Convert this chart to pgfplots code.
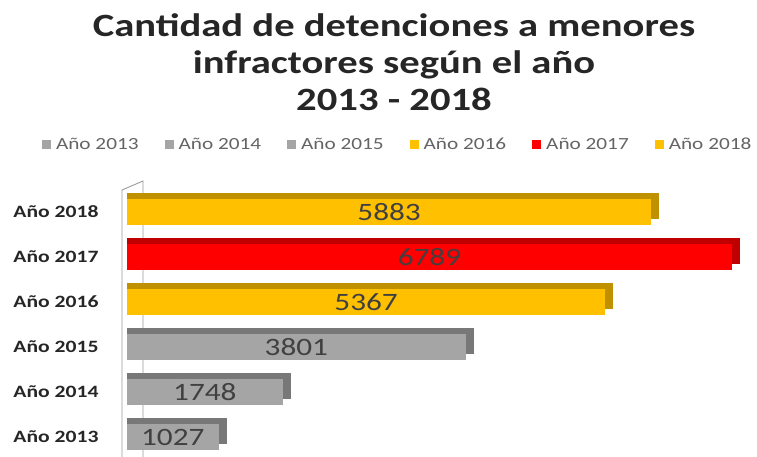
\documentclass[border=0pt]{standalone}
\usepackage{fontspec}
\setmainfont{Carlito}[FakeStretch=1.25]
\usepackage{pgfplots}
\pgfplotsset{compat=1.18}
\usepackage{pgfplotstable}
\definecolor{gfront}{RGB}{165,165,165}
\definecolor{gtop}{RGB}{120,120,120}
\definecolor{yfront}{RGB}{255,192,0}
\definecolor{ytop}{RGB}{191,144,0}
\definecolor{rfront}{RGB}{255,0,0}
\definecolor{rtop}{RGB}{192,0,0}
\definecolor{legtext}{RGB}{100,100,100}
\definecolor{valtext}{RGB}{64,64,64}

\pgfplotstableread{
y v
0 1027
1 1748
2 3801
3 5367
4 6789
5 5883
}\datatab

\begin{document}
\begin{tikzpicture}
\path[use as bounding box] (0pt,0pt) rectangle (757pt,-457pt);
\node[font=\bfseries\fontsize{32.5}{37}\selectfont, align=center, text=black!85] at (394pt,-62pt) {Cantidad de detenciones a menores\\infractores según el año\\2013 - 2018};
\draw[gray!80, line width=0.9pt] (122pt,-457pt) -- (122pt,-190pt) -- (143pt,-181pt) -- (143pt,-457pt);
\begin{axis}[
  at={(127pt,-456.8pt)}, anchor=south west, scale only axis,
  width=623.7pt, height=271.8pt,
  xmin=0, xmax=7000, ymin=-0.44, ymax=5.6,
  bar width=26pt,
  axis line style={draw=none},
  xtick=\empty,
  ytick={0,1,2,3,4,5},
  yticklabels={Año 2013,Año 2014,Año 2015,Año 2016,Año 2017,Año 2018},
  major tick length=0pt,
  yticklabel style={font=\bfseries\fontsize{17.3}{19}\selectfont, text=black!85, xshift=-25pt},
  /pgf/number format/assume math mode=true,
  /pgf/number format/1000 sep={},
  legend columns=6,
  legend style={at={(axis description cs:0.434,1.148)}, anchor=center, draw=none, fill=none,
    font=\fontsize{17}{19}\selectfont, text=legtext, column sep=24pt,
    /tikz/every odd column/.append style={column sep=3pt}},
  legend image code/.code={\fill[#1] (0pt,-4.5pt) rectangle (9pt,4.5pt);},
  clip=false,
]
\addplot[xbar, bar shift=6pt, fill=gtop, draw=none, forget plot] coordinates {(1117,0)};
\addplot[xbar, bar shift=0pt, fill=gfront, draw=none] coordinates {(1027,0)};
\addplot[xbar, bar shift=6pt, fill=gtop, draw=none, forget plot] coordinates {(1838,1)};
\addplot[xbar, bar shift=0pt, fill=gfront, draw=none] coordinates {(1748,1)};
\addplot[xbar, bar shift=6pt, fill=gtop, draw=none, forget plot] coordinates {(3891,2)};
\addplot[xbar, bar shift=0pt, fill=gfront, draw=none] coordinates {(3801,2)};
\addplot[xbar, bar shift=6pt, fill=ytop, draw=none, forget plot] coordinates {(5457,3)};
\addplot[xbar, bar shift=0pt, fill=yfront, draw=none] coordinates {(5367,3)};
\addplot[xbar, bar shift=6pt, fill=rtop, draw=none, forget plot] coordinates {(6879,4)};
\addplot[xbar, bar shift=0pt, fill=rfront, draw=none] coordinates {(6789,4)};
\addplot[xbar, bar shift=6pt, fill=ytop, draw=none, forget plot] coordinates {(5973,5)};
\addplot[xbar, bar shift=0pt, fill=yfront, draw=none] coordinates {(5883,5)};
\legend{Año 2013,Año 2014,Año 2015,Año 2016,Año 2017,Año 2018}
\addplot[draw=none, mark=none, forget plot, nodes near coords, point meta=explicit,
  every node near coord/.style={anchor=center, font=\fontsize{25}{28}\selectfont, text=valtext}]
  table[x expr=\thisrow{v}/2, y=y, meta=v] {\datatab};
\end{axis}
\end{tikzpicture}
\end{document}
